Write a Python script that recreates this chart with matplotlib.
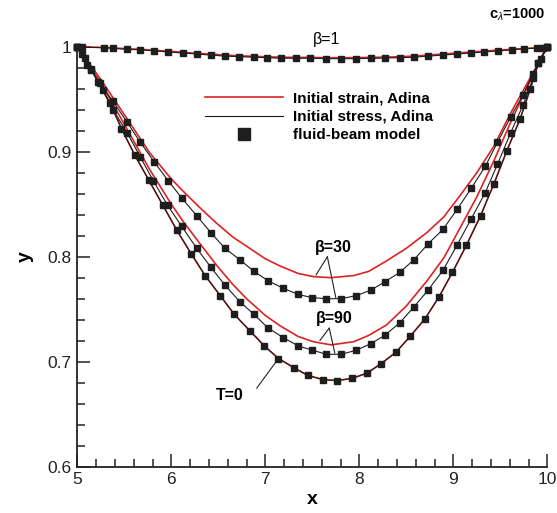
import matplotlib
matplotlib.use("Agg")
import matplotlib.pyplot as plt
from matplotlib.ticker import MultipleLocator
from matplotlib.lines import Line2D

plt.rcParams['font.family'] = ['Liberation Sans', 'DejaVu Sans']
plt.rcParams['mathtext.fontset'] = 'custom'
plt.rcParams['mathtext.rm'] = 'Liberation Sans'
plt.rcParams['mathtext.bf'] = 'Liberation Sans:bold'
plt.rcParams['mathtext.it'] = 'Liberation Sans:italic'

# ---- data ----
# T=0 (strain, stress and fluid-beam coincide)
t0_x = [5.00, 5.08, 5.15, 5.22, 5.35, 5.47, 5.61, 5.76, 5.91, 6.06, 6.21, 6.36,
        6.52, 6.67, 6.84, 6.99, 7.14, 7.31, 7.45, 7.61, 7.76, 7.92, 8.08, 8.23,
        8.39, 8.54, 8.70, 8.85, 8.99, 9.14, 9.29, 9.43, 9.57, 9.71, 9.82, 9.90, 10.0]
t0_y = [1.000, 0.989, 0.979, 0.966, 0.946, 0.922, 0.897, 0.873, 0.849, 0.825, 0.803, 0.782,
        0.763, 0.745, 0.729, 0.715, 0.703, 0.694, 0.687, 0.683, 0.682, 0.684, 0.689, 0.698,
        0.709, 0.724, 0.741, 0.762, 0.785, 0.811, 0.839, 0.869, 0.901, 0.931, 0.960, 0.984, 1.000]

# beta=90, fluid-beam model / initial stress
b90_x = [5.00, 5.05, 5.15, 5.27, 5.38, 5.53, 5.67, 5.81, 5.96, 6.11, 6.27, 6.42,
         6.57, 6.73, 6.88, 7.03, 7.19, 7.35, 7.50, 7.65, 7.81, 7.97, 8.12, 8.27,
         8.43, 8.58, 8.73, 8.89, 9.04, 9.19, 9.34, 9.47, 9.61, 9.74, 9.85, 9.93, 10.0]
b90_y = [1.000, 0.993, 0.978, 0.959, 0.940, 0.918, 0.895, 0.872, 0.849, 0.829, 0.808, 0.790,
         0.773, 0.757, 0.745, 0.732, 0.723, 0.715, 0.711, 0.707, 0.707, 0.711, 0.717, 0.725,
         0.737, 0.752, 0.768, 0.787, 0.811, 0.836, 0.861, 0.888, 0.918, 0.944, 0.970, 0.988, 1.000]

# beta=30, fluid-beam model / initial stress
b30_x = [5.00, 5.10, 5.24, 5.38, 5.53, 5.67, 5.82, 5.97, 6.11, 6.27, 6.42, 6.57,
         6.73, 6.88, 7.03, 7.19, 7.35, 7.50, 7.65, 7.81, 7.97, 8.12, 8.27, 8.43,
         8.58, 8.73, 8.89, 9.04, 9.19, 9.34, 9.47, 9.61, 9.74, 9.85, 9.90, 10.0]
b30_y = [1.000, 0.983, 0.965, 0.948, 0.928, 0.909, 0.890, 0.872, 0.856, 0.839, 0.823, 0.808,
         0.797, 0.786, 0.777, 0.770, 0.764, 0.761, 0.760, 0.760, 0.763, 0.768, 0.776, 0.785,
         0.797, 0.812, 0.826, 0.845, 0.865, 0.886, 0.909, 0.933, 0.954, 0.974, 0.984, 1.000]

# initial strain (red) curves, read at the same x stations
red_x = [5.00, 5.24, 5.45, 5.77, 6.00, 6.13, 6.30, 6.48, 6.65, 6.80, 7.00, 7.16, 7.35,
         7.51, 7.70, 7.94, 8.10, 8.29, 8.50, 8.72, 8.90, 9.07, 9.25, 9.43, 9.60, 9.71,
         9.89, 10.0]
b30r_y = [1.000, 0.970, 0.942, 0.899, 0.874, 0.862, 0.847, 0.832, 0.819, 0.810, 0.798, 0.791,
          0.784, 0.781, 0.780, 0.782, 0.786, 0.796, 0.808, 0.823, 0.838, 0.858, 0.880, 0.905,
          0.935, 0.953, 0.982, 1.000]
b90r_y = [1.000, 0.967, 0.934, 0.883, 0.850, 0.833, 0.813, 0.792, 0.774, 0.760, 0.744, 0.734,
          0.724, 0.719, 0.716, 0.719, 0.725, 0.735, 0.753, 0.777, 0.799, 0.827, 0.857, 0.891,
          0.926, 0.947, 0.981, 1.000]

# beta=1
b1_x = [5.00, 5.05, 5.28, 5.38, 5.53, 5.67, 5.82, 5.97, 6.12, 6.27, 6.42, 6.57,
        6.72, 6.88, 7.02, 7.17, 7.33, 7.48, 7.65, 7.81, 7.97, 8.12, 8.27, 8.43,
        8.58, 8.73, 8.89, 9.04, 9.19, 9.33, 9.48, 9.62, 9.75, 9.89, 9.95, 10.0]
b1_y = [1.000, 0.9995, 0.999, 0.9985, 0.9975, 0.997, 0.996, 0.995, 0.994, 0.993, 0.992, 0.991,
        0.9905, 0.990, 0.9895, 0.989, 0.989, 0.989, 0.9886, 0.9886, 0.9886, 0.9889, 0.9892, 0.9895,
        0.990, 0.991, 0.992, 0.993, 0.994, 0.995, 0.996, 0.997, 0.998, 0.9985, 0.999, 1.000]
b1r_y = [1.000, 0.9998, 0.9993, 0.9988, 0.998, 0.9975, 0.9965, 0.9957, 0.9947, 0.9937, 0.993, 0.992,
         0.9913, 0.9908, 0.9903, 0.990, 0.9898, 0.9898, 0.9895, 0.9895, 0.9896, 0.9898, 0.990, 0.9905,
         0.991, 0.992, 0.993, 0.994, 0.995, 0.9958, 0.9967, 0.9975, 0.9983, 0.999, 0.9995, 1.000]

RED = '#dc2323'
BLK = '#1e1e1e'

fig = plt.figure(figsize=(5.57, 5.13), dpi=100)
ax = fig.add_axes([0.1388, 0.0903, 0.8438, 0.8187])

# initial strain (red)
for xs, ys in [(t0_x, t0_y), (red_x, b90r_y), (red_x, b30r_y), (b1_x, b1r_y)]:
    ax.plot(xs, ys, color=RED, lw=1.2, clip_on=False, zorder=2)
# initial stress (black) + fluid-beam markers
for xs, ys in [(t0_x, t0_y), (b90_x, b90_y), (b30_x, b30_y), (b1_x, b1_y)]:
    ax.plot(xs, ys, color=BLK, lw=0.8, clip_on=False, zorder=3)
    ax.plot(xs, ys, ls='none', marker='s', ms=5, color=BLK, clip_on=False, zorder=4)

ax.set_xlim(5, 10)
ax.set_ylim(0.6, 1.0)
ax.spines['top'].set_visible(False)
ax.spines['right'].set_visible(False)
for s in ['left', 'bottom']:
    ax.spines[s].set_linewidth(1.3)
    ax.spines[s].set_color('#222222')

ax.xaxis.set_major_locator(MultipleLocator(1))
ax.xaxis.set_minor_locator(MultipleLocator(0.2))
ax.yaxis.set_minor_locator(MultipleLocator(0.02))
ax.set_yticks([0.6, 0.7, 0.8, 0.9, 1.0])
ax.set_yticklabels(['0.6', '0.7', '0.8', '0.9', '1'])
ax.tick_params(which='both', direction='in', width=1.1, colors='#222222', labelsize=12.5,
               top=False, right=False)
ax.tick_params(which='major', length=9.5)
ax.tick_params(which='minor', length=6)
ax.tick_params(axis='both', pad=4)

ax.set_xlabel('x', fontsize=14, fontweight='bold', labelpad=3)
ax.set_ylabel('y', fontsize=14, fontweight='bold', labelpad=10)

# legend
handles = [Line2D([], [], color=RED, lw=1.2),
           Line2D([], [], color=BLK, lw=0.8),
           Line2D([], [], ls='none', marker='s', ms=8, color=BLK)]
labels = ['Initial strain, Adina', 'Initial stress, Adina', 'fluid-beam model']
ax.legend(handles, labels, loc='upper left', bbox_to_anchor=(0.255, 0.912), frameon=False,
          prop={'weight': 'bold', 'size': 11}, handlelength=5.1, handletextpad=0.65,
          labelspacing=0.3, borderpad=0)

# annotations
ax.text(7.65, 1.0064, 'β=1', ha='center', va='center', fontsize=11.5, clip_on=False)
ax.text(9.975, 1.030, r'c$_{\lambda}$=1000', ha='right', va='center', fontsize=10.5,
        fontweight='bold', clip_on=False)
line_kw = dict(arrowstyle='-', lw=0.8, color='#222222', shrinkA=0, shrinkB=0)
ax.annotate('', xy=(7.54, 0.7826), xytext=(7.66, 0.800), arrowprops=line_kw)
ax.annotate('', xy=(7.75, 0.761), xytext=(7.66, 0.800), arrowprops=line_kw)
ax.text(7.72, 0.802, 'β=30', ha='center', va='bottom', fontsize=11.5, fontweight='bold')
ax.annotate('', xy=(7.58, 0.720), xytext=(7.68, 0.732), arrowprops=line_kw)
ax.annotate('', xy=(7.74, 0.708), xytext=(7.68, 0.732), arrowprops=line_kw)
ax.text(7.73, 0.734, 'β=90', ha='center', va='bottom', fontsize=11.5, fontweight='bold')
ax.annotate('', xy=(7.128, 0.7016), xytext=(6.908, 0.6747), arrowprops=line_kw)
ax.text(6.62, 0.668, 'T=0', ha='center', va='center', fontsize=11.5, fontweight='bold')

fig.savefig('out.png', dpi=100)
